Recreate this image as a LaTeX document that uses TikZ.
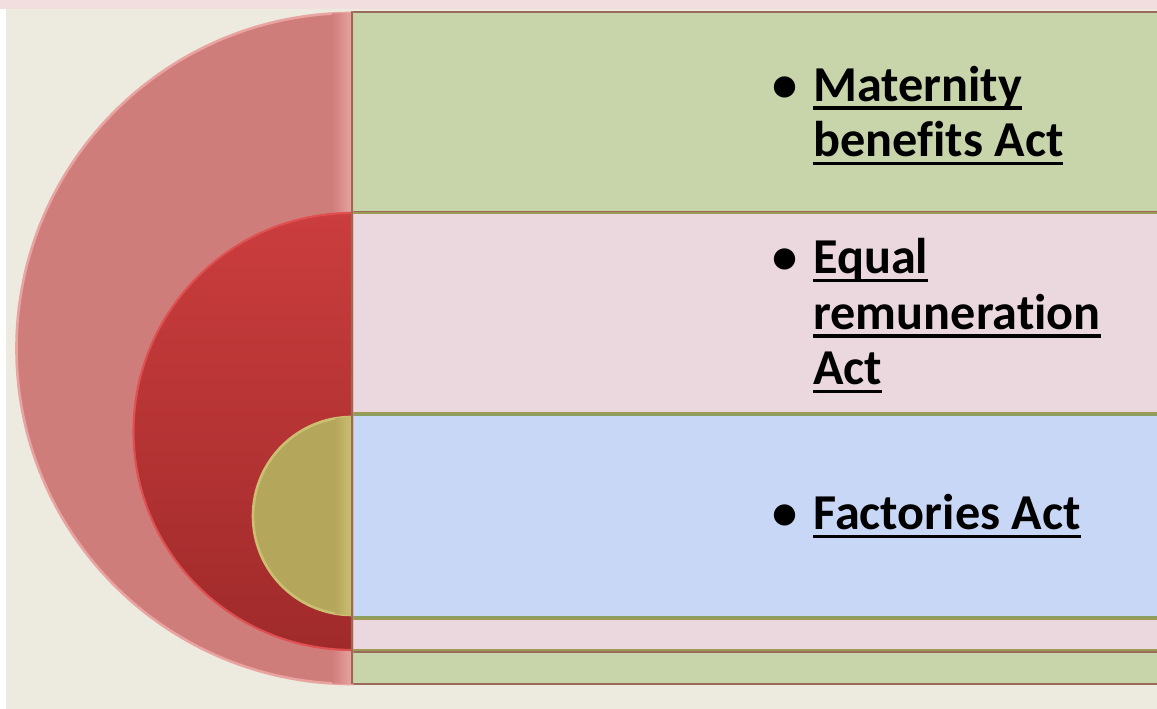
\documentclass[tikz,border=0pt]{standalone}
\usepackage{fontspec}
\setmainfont{Carlito}[Ligatures=NoCommon]

\definecolor{slidebg}{HTML}{EDEBDF}
\definecolor{topband}{HTML}{F2DEDE}
\definecolor{greenbox}{HTML}{C8D5AA}
\definecolor{pinkbox}{HTML}{EAD8DE}
\definecolor{bluebox}{HTML}{C9D7F7}
\definecolor{greenedge}{HTML}{9A6A58}
\definecolor{pinkedge}{HTML}{9C9A55}
\definecolor{blueedge}{HTML}{8A9E60}
\definecolor{bigarc}{HTML}{CF7D7B}
\definecolor{bigrim}{HTML}{E9A3A0}
\definecolor{midtop}{HTML}{CB3D3E}
\definecolor{midbot}{HTML}{A02A2A}
\definecolor{midrim}{HTML}{E05050}
\definecolor{smallarc}{HTML}{B4A75C}
\definecolor{smallrim}{HTML}{CBBF72}

% underlined line of an item
\newcommand\actul[1]{\setbox0\hbox{#1}\rlap{\rule[-4.8pt]{\wd0}{2.2pt}}\box0}
\newcommand\actitem{\llap{\textbullet\hspace{9pt}}}

\begin{document}
\begin{tikzpicture}[x=0.02cm, y=0.02cm,
    actbox/.style={line width=1pt},
    acttext/.style={align=left, inner sep=0pt, anchor=base west,
      font=\fontsize{28.6}{31.6}\selectfont\bfseries}]

  \useasboundingbox (0,0) rectangle (1157,709);

  % slide background
  \fill[white] (0,0) rectangle (1157,709);
  \fill[slidebg] (6,0) rectangle (1157,700);
  \fill[topband] (0,700) rectangle (1157,709);

  % boxes
  \draw[actbox, fill=greenbox, draw=greenedge] (352,497) rectangle (1170,697);
  \draw[actbox, fill=pinkbox, draw=pinkedge] (352,296) rectangle (1170,496);
  \draw[actbox, fill=bluebox, draw=blueedge] (352,92) rectangle (1170,294);
  \draw[actbox, fill=pinkbox, draw=pinkedge] (352,59) rectangle (1170,90);
  \draw[actbox, fill=greenbox, draw=greenedge] (352,25) rectangle (1170,57);

  % half discs
  \draw[bigrim, line width=1.5pt, fill=bigarc]
    (352,696) arc[start angle=90, end angle=270, radius=335.5] -- cycle;
  \begin{scope}
    \clip (352,696) arc[start angle=90, end angle=270, radius=335.5] -- cycle;
    \shade[left color=bigarc, right color=bigrim] (332,0) rectangle (352,709);
  \end{scope}

  \draw[midrim, line width=1.2pt, top color=midtop, bottom color=midbot]
    (352,496) arc[start angle=90, end angle=270, radius=218.5] -- cycle;

  \draw[smallrim, line width=1.5pt, fill=smallarc]
    (352,292) arc[start angle=90, end angle=270, radius=99] -- cycle;
  \begin{scope}
    \clip (352,292) arc[start angle=90, end angle=270, radius=99] -- cycle;
    \shade[left color=smallarc, right color=smallrim] (335,0) rectangle (352,709);
  \end{scope}

  \draw[greenedge, line width=1.2pt] (352,697) -- (352,25);

  % items (anchored on the last line)
  \node[acttext] (maternity) at (813,552)
    {\actitem\actul{Maternity}\\\actul{benefits Act}};
  \node[acttext] (equalpay) at (813,324)
    {\actitem\actul{Equal}\\\actul{remuneration}\\\actul{Act}};
  \node[acttext] (factories) at (813,179)
    {\actitem\actul{Factories Act}};

\end{tikzpicture}
\end{document}
